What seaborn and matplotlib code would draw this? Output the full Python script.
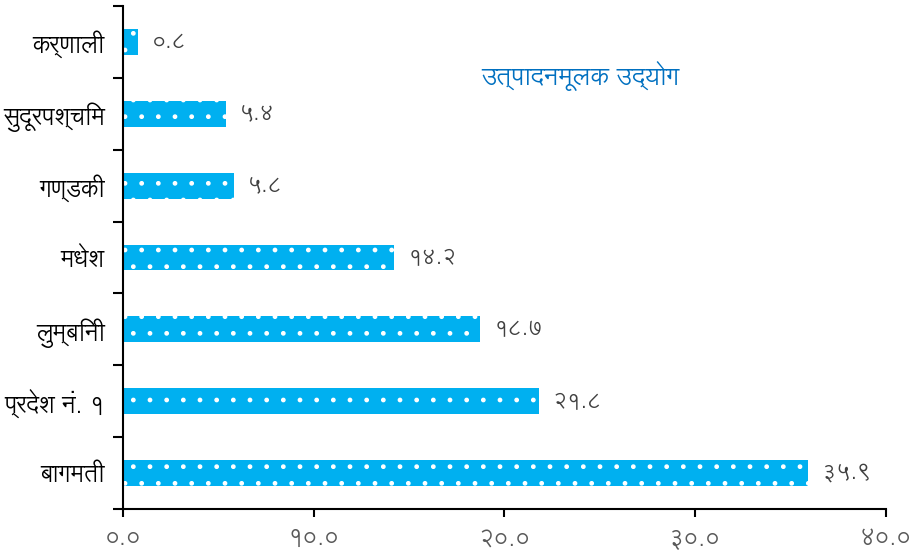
import matplotlib
matplotlib.use("Agg")
import matplotlib.pyplot as plt
import seaborn as sns
from matplotlib.ticker import FixedLocator, FuncFormatter

# Data
provinces = ["कर्णाली", "सुदूरपश्चिम", "गण्डकी", "मधेश", "लुम्बिनी", "प्रदेश नं. १", "बागमती"]
values = [0.8, 5.4, 5.8, 14.2, 18.7, 21.8, 35.9]
title = "उत्पादनमूलक उद्योग"
x_ticks = [0, 10, 20, 30, 40]

DEVA_DIGITS = str.maketrans("0123456789", "०१२३४५६७८९")


def deva(v):
    return f"{v:.1f}".translate(DEVA_DIGITS)


sns.set_theme(style="white")
plt.rcParams["font.family"] = ["Lohit Devanagari", "Noto Sans Devanagari", "DejaVu Sans"]

fig = plt.figure(figsize=(9.2, 5.56), dpi=100)
ax = fig.add_axes([0.1337, 0.0845, 0.8293, 0.9045])

sns.barplot(x=values, y=provinces, orient="h", color="#00B0F0",
            width=0.36, ax=ax, saturation=1)
for p in ax.patches:
    p.set_hatch(".")
    p.set_edgecolor("white")
    p.set_linewidth(0)

ax.bar_label(ax.containers[0], labels=[deva(v) for v in values],
             padding=10, color="#404040", fontsize=16)

ax.set_xlim(0, 40)
ax.set_ylim(len(provinces) - 0.5, -0.5)
ax.xaxis.set_major_locator(FixedLocator(x_ticks))
ax.xaxis.set_major_formatter(FuncFormatter(lambda v, pos: deva(v)))
ax.tick_params(axis="x", direction="out", length=6, width=1.5,
               colors="black", labelcolor="#595959", labelsize=17, pad=7, bottom=True)
ax.yaxis.set_minor_locator(FixedLocator([i - 0.5 for i in range(len(provinces) + 1)]))
ax.tick_params(axis="y", which="major", length=0, labelsize=17, labelcolor="black", pad=13)
ax.tick_params(axis="y", which="minor", direction="out", length=7, width=1.5,
               colors="black", left=True)

for s in ["top", "right"]:
    ax.spines[s].set_visible(False)
for s in ["left", "bottom"]:
    ax.spines[s].set_color("black")
    ax.spines[s].set_linewidth(1.5)
ax.set_xlabel("")
ax.set_ylabel("")

ax.text(24, 0.47, title, ha="center", va="center", color="#0070C0", fontsize=18)

fig.savefig("out.png", dpi=100)
